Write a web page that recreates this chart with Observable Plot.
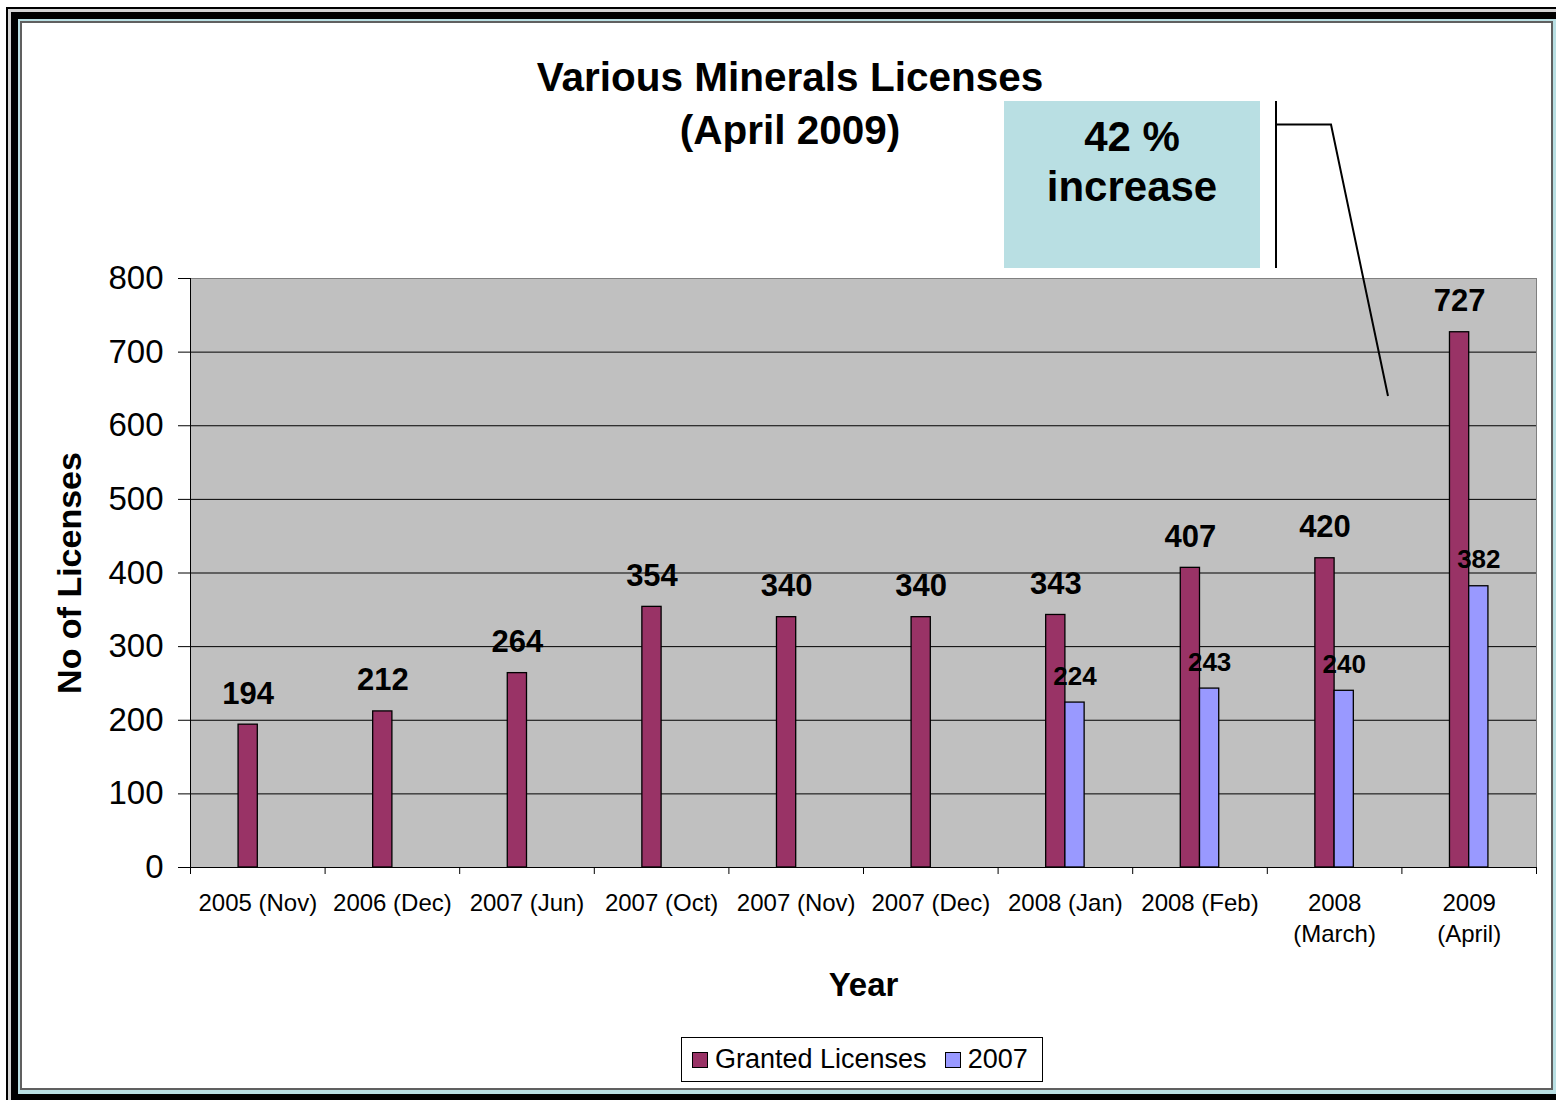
<!DOCTYPE html>
<html><head><meta charset="utf-8">
<script src="https://cdn.jsdelivr.net/npm/d3@7"></script>
<script src="https://cdn.jsdelivr.net/npm/@observablehq/plot@0.6"></script>
<style>
body{margin:0;width:1556px;height:1100px;overflow:hidden;background:#fff;font-family:"Liberation Sans",Arial,Helvetica,sans-serif;position:relative}
.abs{position:absolute}
.sw{display:inline-block;width:16px;height:16px;border:1px solid #000;box-sizing:border-box}
</style></head><body>
<div class="abs" style="left:6px;top:7px;width:1700px;height:1200px;background:#000"></div>
<div class="abs" style="left:8px;top:9px;width:1700px;height:1200px;background:#d4d4d4"></div>
<div class="abs" style="left:11px;top:12px;width:1700px;height:1200px;background:#000"></div>
<div class="abs" style="left:18px;top:19px;width:1538px;height:1075px;background:#b9dfe3"></div>
<div class="abs" style="left:20px;top:21px;width:1533px;height:1069px;background:#606060"></div>
<div class="abs" id="chart" style="left:22px;top:23px;width:1529px;height:1065px;background:#fff"></div>

<div class="abs" id="title" style="left:290px;top:51px;width:1000px;text-align:center;font-weight:bold;font-size:40.5px;line-height:53px;color:#000"></div>

<div class="abs" id="callout" style="left:1004px;top:101px;width:256px;height:167px;background:#b9dfe3;text-align:center;font-weight:bold;font-size:42px;line-height:50px;box-sizing:border-box;padding-top:11px;color:#000"></div>
<svg class="abs" style="left:0;top:0" width="1556" height="1100" pointer-events="none">
  <line x1="1276" y1="101" x2="1276" y2="268" stroke="#000" stroke-width="2"/>
  <polyline points="1277,124.5 1331,124.5 1388,396" fill="none" stroke="#000" stroke-width="2"/>
</svg>

<div class="abs" id="legend" style="left:681px;top:1037px;width:362px;height:45px;border:1px solid #000;box-sizing:border-box;background:#fff;display:flex;align-items:center;font-size:27px;color:#000;padding-left:10px"></div>

<script>
const titleLines = ["Various Minerals Licenses", "(April 2009)"];
const calloutLines = ["42 %", "increase"];
const categories = ["2005 (Nov)", "2006 (Dec)", "2007 (Jun)", "2007 (Oct)", "2007 (Nov)", "2007 (Dec)", "2008 (Jan)", "2008 (Feb)", "2008\n(March)", "2009\n(April)"];
const granted = [194, 212, 264, 354, 340, 340, 343, 407, 420, 727];
const series2007 = [null, null, null, null, null, null, 224, 243, 240, 382];
const seriesNames = ["Granted Licenses", "2007"];
const seriesColors = ["#993366", "#9999ff"];
const yTicks = [0, 100, 200, 300, 400, 500, 600, 700, 800];
const gridTicks = [100, 200, 300, 400, 500, 600, 700];
const yLabel = "No of Licenses";
const xLabel = "Year";

document.getElementById("title").innerHTML = titleLines.join("<br>");
document.getElementById("callout").innerHTML = calloutLines.join("<br>");
const leg = document.getElementById("legend");
leg.innerHTML =
  `<span class="sw" style="background:${seriesColors[0]}"></span><span style="margin-left:7px">${seriesNames[0]}</span>` +
  `<span class="sw" style="background:${seriesColors[1]};margin-left:18px"></span><span style="margin-left:7px">${seriesNames[1]}</span>`;

const W = 1529, H = 1065;
const mL = 168, mR = 15, mT = 255, mB = 221;
const bw = (W - mL - mR) / categories.length;
const barW = bw / 7;

const dGranted = categories.map((c, i) => ({cat: c, value: granted[i]}));
const d2007 = categories.map((c, i) => ({cat: c, value: series2007[i]})).filter(d => d.value != null);

const chart = Plot.plot({
  width: W, height: H,
  marginLeft: mL, marginRight: mR, marginTop: mT, marginBottom: mB,
  style: {fontFamily: '"Liberation Sans", Arial, sans-serif', color: "#000", background: "#fff"},
  x: {domain: categories, padding: 0, round: false, label: null},
  y: {domain: [0, 800], label: null},
  marks: [
    Plot.frame({fill: "#c0c0c0", stroke: "#808080"}),
    Plot.ruleY(gridTicks, {stroke: "#000", strokeWidth: 1}),
    Plot.barY(dGranted, {x: "cat", y: "value", fill: seriesColors[0], stroke: "#000", strokeWidth: 1.3,
      insetLeft: bw / 2 - barW, insetRight: bw / 2}),
    Plot.barY(d2007, {x: "cat", y: "value", fill: seriesColors[1], stroke: "#000", strokeWidth: 1.3,
      insetLeft: bw / 2, insetRight: bw / 2 - barW}),
    Plot.ruleY([0], {stroke: "#000"}),
    Plot.ruleX([categories[0]], {dx: -bw / 2, stroke: "#000"}),
    Plot.ruleX(categories, {dx: -bw / 2, y1: 0, y2: 0, insetBottom: -7, stroke: "#000"}),
    Plot.ruleX([categories[categories.length - 1]], {dx: bw / 2, y1: 0, y2: 0, insetBottom: -7, stroke: "#000"}),
    Plot.text(dGranted, {x: "cat", y: "value", text: d => String(d.value), dx: -barW / 2, dy: -21,
      lineAnchor: "bottom", fontSize: 31, fontWeight: "bold", fill: "#000"}),
    Plot.text(d2007, {x: "cat", y: "value", text: d => String(d.value), dx: barW / 2, dy: -18,
      lineAnchor: "bottom", fontSize: 26, fontWeight: "bold", fill: "#000"}),
    Plot.axisY(yTicks, {tickSize: 12, tickPadding: 15, fontSize: 33, label: null}),
    Plot.axisX({tickSize: 0, tickPadding: 21, fontSize: 24, lineHeight: 1.3, label: null}),
    Plot.text([yLabel], {frameAnchor: "left", rotate: -90, dx: -120, textAnchor: "middle", fontSize: 34, fontWeight: "bold", fill: "#000"}),
    Plot.text([xLabel], {frameAnchor: "bottom", dy: 128, fontSize: 33, fontWeight: "bold", fill: "#000"})
  ]
});
document.getElementById("chart").appendChild(chart);
</script>
</body></html>
